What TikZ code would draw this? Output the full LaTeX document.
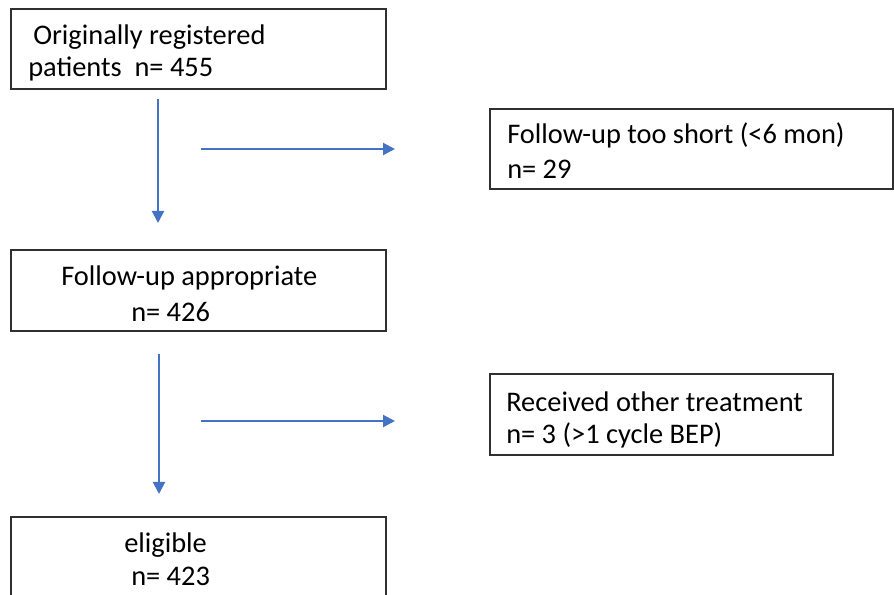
\documentclass[tikz,border=0pt]{standalone}
\usepackage{fontspec}
\setmainfont{Carlito}
\usepackage{xcolor}
\usetikzlibrary{positioning, arrows.meta, fit}

\definecolor{flowblue}{HTML}{4472C4}
\definecolor{boxline}{HTML}{303030}

\tikzset{
  box/.style={draw=boxline, line width=0.8pt, inner sep=0pt},
  txt/.style={anchor=west, inner sep=0pt, font=\fontsize{21.3}{26}\selectfont},
  flow/.style={draw=flowblue, line width=1.5pt, -{Triangle[length=9pt, width=9pt]}}
}

\begin{document}
\begin{tikzpicture}[x=0.75pt, y=-0.75pt]
  \clip (0,0) rectangle (894,595);
  \node[box, fit={(11,9) (386,89)}] (reg) {};
  \node[box, fit={(490,109) (893,189)}] (short) {};
  \node[box, fit={(11,250) (386,331)}] (appr) {};
  \node[box, fit={(490,374) (833,455)}] (other) {};
  \node[box, fit={(11,517) (386,625)}] (elig) {};
  \node[txt] (regA) at (33,37) {Originally registered};
  \node[txt] (regB) at (28,69) {patients\ \ n= 455};
  \node[txt] (shortA) at (507,135) {Follow-up too short (<6 mon)};
  \node[txt] (shortB) at (507,169) {n= 29};
  \node[txt] (apprA) at (61,278) {Follow-up appropriate};
  \node[txt] (apprB) at (131,312) {n= 426};
  \node[txt] (otherA) at (506,402) {Received other treatment};
  \node[txt] (otherB) at (506,435) {n= 3 (>1 cycle BEP)};
  \node[txt] (eligA) at (124,545) {eligible};
  \node[txt] (eligB) at (131,576) {n= 423};
  % arrows
  \coordinate (d1s) at (158,99);
  \coordinate (d1e) at (158,223);
  \coordinate (r1s) at (201,149);
  \coordinate (r1e) at (395,149);
  \coordinate (d2s) at (159,354);
  \coordinate (d2e) at (159,494);
  \coordinate (r2s) at (201,421);
  \coordinate (r2e) at (395,421);
  \begin{scope}[flow]
    \draw (d1s) to (d1e);
    \draw (r1s) to (r1e);
    \draw (d2s) to (d2e);
    \draw (r2s) to (r2e);
  \end{scope}
\end{tikzpicture}
\end{document}
